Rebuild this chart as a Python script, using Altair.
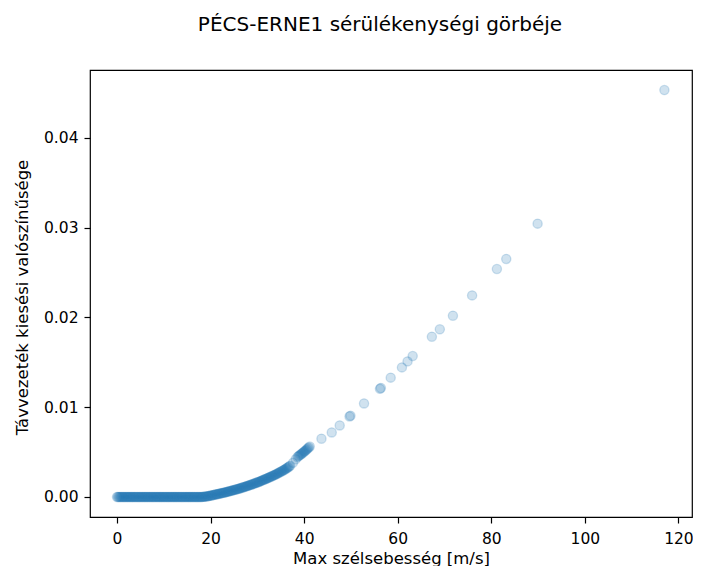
import altair as alt
import pandas as pd

# --- values ---
# points lying on y = 0 (low wind speeds)
flat_x = [0.0, 0.2, 0.4, 0.6, 0.8, 1.0, 1.2, 1.4, 1.6, 1.8, 2.0, 2.2, 2.4, 2.6, 2.8,
          3.0, 3.2, 3.4, 3.6, 3.8, 4.0, 4.2, 4.4, 4.6, 4.8, 5.0, 5.2, 5.4, 5.6, 5.8,
          6.0, 6.2, 6.4, 6.6, 6.8, 7.0, 7.2, 7.4, 7.6, 7.8, 8.0, 8.2, 8.4, 8.6, 8.8,
          9.0, 9.2, 9.4, 9.6, 9.8, 10.0, 10.2, 10.4, 10.6, 10.8, 11.0, 11.2, 11.4,
          11.6, 11.8, 12.0, 12.2, 12.4, 12.6, 12.8, 13.0, 13.2, 13.4, 13.6, 13.8,
          14.0, 14.2, 14.4, 14.6, 14.8, 15.0, 15.2, 15.4, 15.6, 15.8, 16.0, 16.2,
          16.4, 16.6, 16.8, 17.0, 17.2, 17.4, 17.6, 17.8, 18.0]

# dense rising part of the curve
rise_x = [18.2, 18.4, 18.6, 18.8, 19.0, 19.2, 19.4, 19.6, 19.8, 20.0, 20.2, 20.4,
          20.6, 20.8, 21.0, 21.2, 21.4, 21.6, 21.8, 22.0, 22.2, 22.4, 22.6, 22.8,
          23.0, 23.2, 23.4, 23.6, 23.8, 24.0, 24.2, 24.4, 24.6, 24.8, 25.0, 25.2,
          25.4, 25.6, 25.8, 26.0, 26.2, 26.4, 26.6, 26.8, 27.0, 27.2, 27.4, 27.6,
          27.8, 28.0, 28.2, 28.4, 28.6, 28.8, 29.0]
rise_y = [0.00001, 0.00002, 0.00003, 0.00004, 0.00005, 0.00007, 0.00009, 0.00011,
          0.00013, 0.00015, 0.00017, 0.00020, 0.00022, 0.00025, 0.00027, 0.00029,
          0.00031, 0.00034, 0.00036, 0.00038, 0.00040, 0.00043, 0.00045, 0.00048,
          0.00050, 0.00053, 0.00055, 0.00058, 0.00060, 0.00063, 0.00066, 0.00069,
          0.00071, 0.00074, 0.00077, 0.00080, 0.00083, 0.00086, 0.00089, 0.00092,
          0.00095, 0.00098, 0.00102, 0.00105, 0.00108, 0.00111, 0.00115, 0.00118,
          0.00122, 0.00125, 0.00129, 0.00132, 0.00136, 0.00139, 0.00143]

# upper part of the dense curve
mid_x = [29.2, 29.4, 29.6, 29.8, 30.0, 30.2, 30.4, 30.6, 30.8, 31.0, 31.2, 31.4,
         31.6, 31.8, 32.0, 32.2, 32.4, 32.6, 32.8, 33.0, 33.2, 33.4, 33.6, 33.8,
         34.0, 34.2, 34.4, 34.6, 34.8, 35.0, 35.2, 35.4, 35.6, 35.8, 36.0, 36.2,
         36.4, 36.6, 36.8, 37.0, 37.6, 38.2]
mid_y = [0.00147, 0.00151, 0.00155, 0.00158, 0.00162, 0.00166, 0.00170, 0.00174,
         0.00179, 0.00183, 0.00188, 0.00192, 0.00197, 0.00201, 0.00205, 0.00210,
         0.00215, 0.00219, 0.00224, 0.00228, 0.00233, 0.00238, 0.00243, 0.00248,
         0.00253, 0.00258, 0.00264, 0.00269, 0.00275, 0.00280, 0.00286, 0.00292,
         0.00298, 0.00304, 0.00311, 0.00318, 0.00325, 0.00332, 0.00340, 0.00348,
         0.00380, 0.00420]

# dark cluster around 40 m/s
cluster_x = [38.6, 38.8, 39.0, 39.2, 39.4, 39.6, 39.8, 40.0, 40.2, 40.4, 40.6, 40.8,
             41.0, 41.2]
cluster_y = [0.00446, 0.00455, 0.00463, 0.00471, 0.00479, 0.00488, 0.00496, 0.00505,
             0.00513, 0.00522, 0.00532, 0.00542, 0.00552, 0.00562]

# sparse high-wind points
sparse_x = [43.7, 45.9, 47.6, 49.7, 49.9, 52.8, 56.2, 56.4, 58.5, 60.9, 62.1, 63.2,
            67.3, 69.0, 71.8, 75.9, 81.2, 83.2, 89.9, 117.0]
sparse_y = [0.00649, 0.00719, 0.00797, 0.00897, 0.00905, 0.01042, 0.01204, 0.01214,
            0.01329, 0.01443, 0.01510, 0.01570, 0.01785, 0.01867, 0.02019, 0.02245,
            0.02539, 0.02651, 0.03044, 0.04532]

x_ticks = [0, 20, 40, 60, 80, 100, 120]
y_ticks = [0.00, 0.01, 0.02, 0.03, 0.04]

xs = flat_x + rise_x + mid_x + cluster_x + sparse_x
ys = [0.0] * len(flat_x) + rise_y + mid_y + cluster_y + sparse_y
df = pd.DataFrame({"x": xs, "y": ys})

FONT = "DejaVu Sans"
BLUE = "#1f77b4"

chart = (
    alt.Chart(df)
    .mark_circle(
        size=85,
        color=BLUE,
        fillOpacity=0.21,
        stroke=BLUE,
        strokeOpacity=0.21,
        strokeWidth=1.3,
    )
    .encode(
        x=alt.X(
            "x:Q",
            scale=alt.Scale(domain=[-5.77, 122.9], nice=False, zero=False),
            axis=alt.Axis(
                values=x_ticks,
                format="d",
                title="Max szélsebesség [m/s]",
                grid=False,
                domain=False,
                tickSize=6,
                tickWidth=1.2,
                tickColor="black",
                labelPadding=8,
                labelFontSize=15.5,
                labelColor="black",
                labelFont=FONT,
                titleFont=FONT,
                titleFontSize=16.5,
                titleFontWeight="normal",
                titleColor="black",
                titleBaseline="middle",
                titleY=41,
            ),
        ),
        y=alt.Y(
            "y:Q",
            scale=alt.Scale(domain=[-0.00223, 0.04755], nice=False, zero=False),
            axis=alt.Axis(
                values=y_ticks,
                format=".2f",
                title="Távvezeték kiesési valószínűsége",
                grid=False,
                domain=False,
                tickSize=6,
                tickWidth=1.2,
                tickColor="black",
                labelPadding=6,
                labelFontSize=15.5,
                labelColor="black",
                labelFont=FONT,
                titleFont=FONT,
                titleFontSize=16.5,
                titleFontWeight="normal",
                titleColor="black",
                titleAngle=-90,
                titleAlign="center",
                titleBaseline="middle",
                titleX=-68,
                titleY=227,
            ),
        ),
    )
    .properties(
        width=602,
        height=447,
        title=alt.TitleParams(
            "PÉCS-ERNE1 sérülékenységi görbéje",
            font=FONT,
            fontSize=20,
            fontWeight="normal",
            color="black",
            anchor="middle",
            frame="group",
            baseline="alphabetic",
            offset=19,
            dx=-11,
        ),
        padding={"left": 82, "top": 62, "right": 1, "bottom": 49},
        autosize=alt.AutoSizeParams(type="none"),
    )
    .configure_view(stroke="black", strokeWidth=1.2)
)

chart.save("out.html", embed_options={"renderer": "svg", "actions": False})
